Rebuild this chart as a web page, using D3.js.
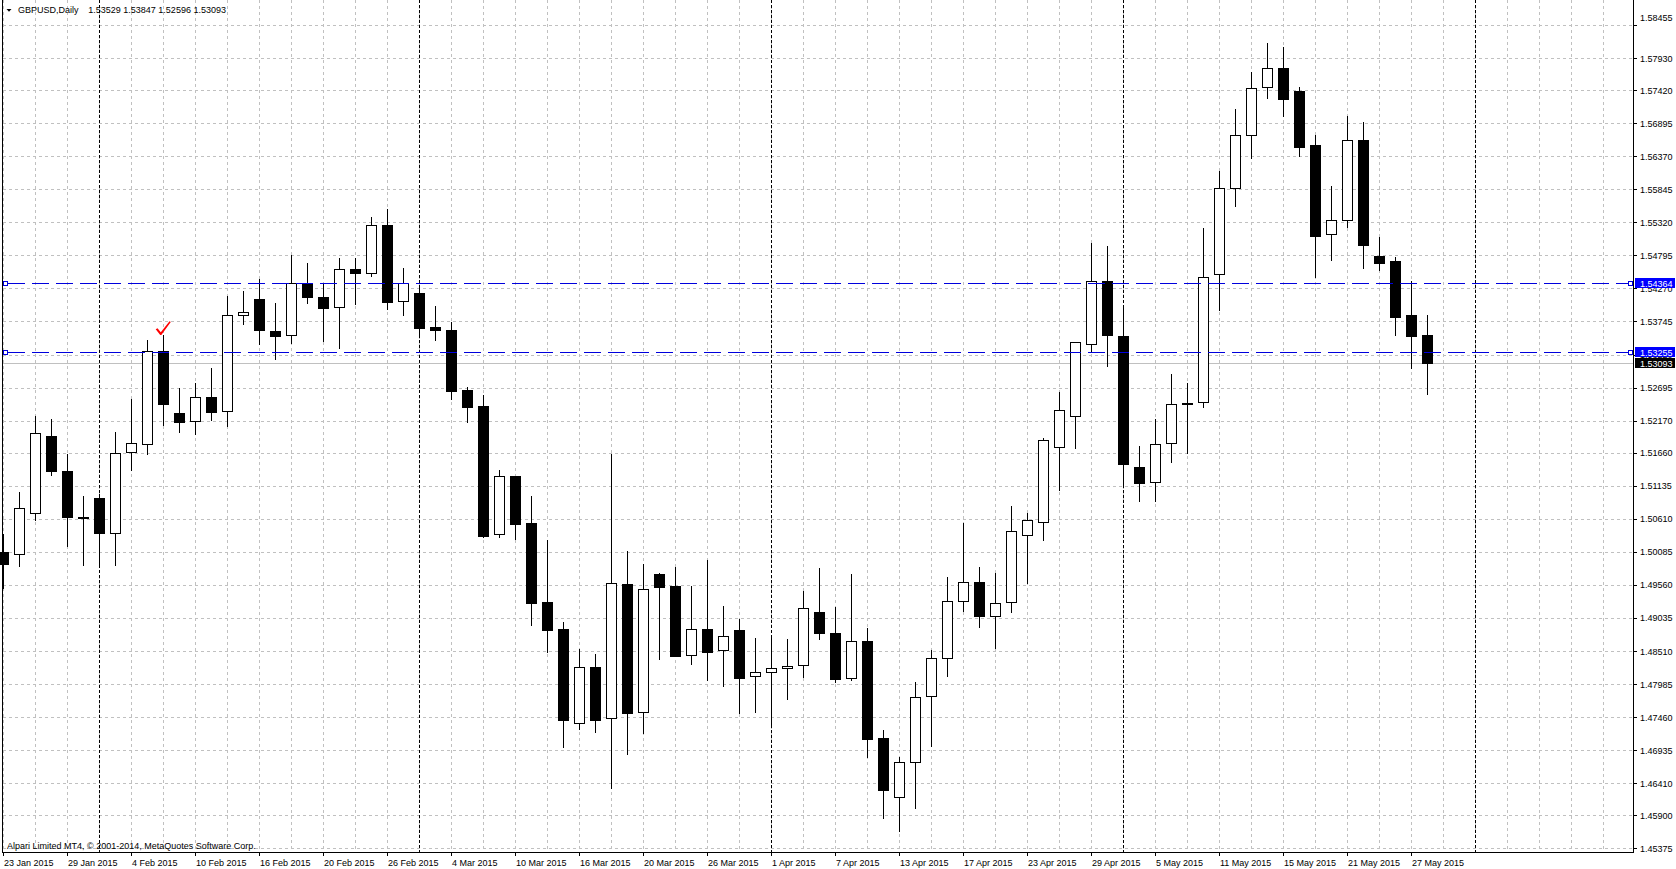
<!DOCTYPE html>
<html><head><meta charset="utf-8">
<script src="https://cdn.jsdelivr.net/npm/d3@7"></script>
<style>
html,body{margin:0;padding:0;background:#fff;overflow:hidden;}
svg{display:block;}
text{font-family:"Liberation Sans",Arial,sans-serif;font-size:9px;fill:#000;}
</style></head><body>
<svg id="c" width="1676" height="869"></svg>
<script>
const dates = ["2015.01.23","2015.01.26","2015.01.27","2015.01.28","2015.01.29","2015.01.30",
"2015.02.02","2015.02.03","2015.02.04","2015.02.05","2015.02.06","2015.02.09","2015.02.10","2015.02.11","2015.02.12","2015.02.13",
"2015.02.16","2015.02.17","2015.02.18","2015.02.19","2015.02.20","2015.02.23","2015.02.24","2015.02.25","2015.02.26","2015.02.27",
"2015.03.02","2015.03.03","2015.03.04","2015.03.05","2015.03.06","2015.03.09","2015.03.10","2015.03.11","2015.03.12","2015.03.13",
"2015.03.16","2015.03.17","2015.03.18","2015.03.19","2015.03.20","2015.03.23","2015.03.24","2015.03.25","2015.03.26","2015.03.27",
"2015.03.30","2015.03.31","2015.04.01","2015.04.02","2015.04.03","2015.04.06","2015.04.07","2015.04.08","2015.04.09","2015.04.10",
"2015.04.13","2015.04.14","2015.04.15","2015.04.16","2015.04.17","2015.04.20","2015.04.21","2015.04.22","2015.04.23","2015.04.24",
"2015.04.27","2015.04.28","2015.04.29","2015.04.30","2015.05.01","2015.05.04","2015.05.05","2015.05.06","2015.05.07","2015.05.08",
"2015.05.11","2015.05.12","2015.05.13","2015.05.14","2015.05.15","2015.05.18","2015.05.19","2015.05.20","2015.05.21","2015.05.22",
"2015.05.25","2015.05.26","2015.05.27","2015.05.28"];

const openP = [1.50076,1.50045,1.50696,1.51925,1.51369,1.50635,1.50939,1.50378,1.51665,1.51792,
1.53270,1.52285,1.52158,1.52539,1.52317,1.53842,1.54101,1.53588,1.53524,1.54349,
1.54129,1.53968,1.54574,1.54522,1.55284,1.54066,1.54204,1.53650,1.53610,1.52657,
1.52403,1.50376,1.51288,1.50543,1.49290,1.48857,1.47361,1.48255,1.47440,1.49569,
1.47535,1.49733,1.49542,1.48441,1.48854,1.48520,1.48838,1.48107,1.48171,1.48234,
1.48282,1.49124,1.48790,1.48075,1.48663,1.47122,1.46185,1.46740,1.47802,1.48405,
1.49310,1.49599,1.49058,1.49285,1.50359,1.50554,1.51748,1.52251,1.53394,1.54381,
1.53514,1.51440,1.51189,1.51811,1.52446,1.52460,1.54493,1.55859,1.56701,1.57464,
1.57766,1.57406,1.56548,1.55129,1.55351,1.56627,1.54779,1.54705,1.53842,1.53529];

const highP = [1.50362,1.51035,1.52242,1.52195,1.51639,1.50971,1.51003,1.51988,1.52512,1.53450,
1.53529,1.52687,1.52767,1.53005,1.54149,1.54228,1.54419,1.54038,1.54800,1.54666,
1.54349,1.54753,1.54753,1.55406,1.55533,1.54591,1.54303,1.53985,1.53742,1.52697,
1.52576,1.51386,1.51295,1.50970,1.50277,1.48972,1.48539,1.48462,1.51639,1.50098,
1.49892,1.49749,1.49844,1.49542,1.49955,1.49224,1.49018,1.48716,1.48716,1.48700,
1.49463,1.49828,1.49209,1.49733,1.48875,1.47254,1.46826,1.48015,1.48524,1.49693,
1.50542,1.49838,1.49750,1.50812,1.50705,1.51886,1.52622,1.53426,1.54991,1.54947,
1.54004,1.51767,1.52188,1.52911,1.52772,1.55224,1.56135,1.57120,1.57708,1.58168,
1.58110,1.57464,1.56707,1.55896,1.57009,1.56913,1.55086,1.54763,1.54387,1.53847];

const lowP = [1.49510,1.49864,1.50590,1.51305,1.50177,1.49880,1.49896,1.49880,1.51384,1.51644,
1.52105,1.51988,1.51956,1.52184,1.52089,1.53709,1.53386,1.53153,1.53407,1.54043,
1.53442,1.53321,1.54020,1.54464,1.53945,1.53846,1.53523,1.53454,1.52512,1.52154,
1.50325,1.50318,1.50289,1.48920,1.48499,1.46991,1.47270,1.47228,1.46338,1.46878,
1.47207,1.48388,1.48425,1.48308,1.48049,1.47959,1.47530,1.47546,1.47339,1.47752,
1.48102,1.48706,1.48022,1.48054,1.46831,1.45862,1.45650,1.46017,1.46997,1.48116,
1.49147,1.48883,1.48562,1.49134,1.49593,1.50278,1.51069,1.51742,1.53281,1.53043,
1.51151,1.50900,1.50900,1.51516,1.51654,1.52380,1.53932,1.55584,1.56347,1.57300,
1.57009,1.56378,1.54456,1.54726,1.55250,1.54599,1.54567,1.53534,1.53010,1.52596];

const closeP = [1.49886,1.50775,1.51967,1.51374,1.50643,1.50630,1.50378,1.51649,1.51808,1.53270,
1.52438,1.52142,1.52539,1.52311,1.53842,1.53889,1.53614,1.53519,1.54350,1.54141,
1.53962,1.54574,1.54522,1.55284,1.54060,1.54349,1.53644,1.53604,1.52645,1.52391,
1.50341,1.51282,1.50532,1.49278,1.48851,1.47419,1.48250,1.47419,1.49585,1.47530,
1.49489,1.49532,1.48435,1.48854,1.48499,1.48743,1.48086,1.48171,1.48234,1.48266,
1.49187,1.48790,1.48070,1.48663,1.47117,1.46306,1.46741,1.47783,1.48405,1.49310,
1.49599,1.49071,1.49266,1.50410,1.50598,1.51867,1.52345,1.53413,1.54381,1.53533,
1.51484,1.51183,1.51805,1.52427,1.52440,1.54445,1.55859,1.56701,1.57448,1.57766,
1.57284,1.56521,1.55107,1.55351,1.56622,1.54964,1.54678,1.53820,1.53520,1.53093];

const priceTicks = [1.58455,1.57930,1.57420,1.56895,1.56370,1.55845,1.55320,1.54795,1.54270,1.53745,
1.53220,1.52695,1.52170,1.51660,1.51135,1.50610,1.50085,1.49560,1.49035,1.48510,
1.47985,1.47460,1.46935,1.46410,1.45900,1.45375];

const dateTickLabels = ["23 Jan 2015","29 Jan 2015","4 Feb 2015","10 Feb 2015","16 Feb 2015","20 Feb 2015",
"26 Feb 2015","4 Mar 2015","10 Mar 2015","16 Mar 2015","20 Mar 2015","26 Mar 2015","1 Apr 2015",
"7 Apr 2015","13 Apr 2015","17 Apr 2015","23 Apr 2015","29 Apr 2015","5 May 2015","11 May 2015",
"15 May 2015","21 May 2015","27 May 2015"];

// first bar of each month (bar index; 92 = 1 Jun 2015, in the empty right shift area)
const monthSeparators = [6, 26, 48, 70, 92];
const horizontalLevels = [1.54364, 1.53255];
const bidPrice = 1.53093;
const markerBar = 10;
const symbolTitle = "GBPUSD,Daily";
const copyrightText = "Alpari Limited MT4, \u00A9 2001-2014, MetaQuotes Software Corp.";

// ---------------------------------------------------------------
const svg = d3.select("#c");
const plotR = 1633, plotB = 852;
const x = d3.scaleLinear().domain([0, 1]).range([3, 19]);
const y = d3.scaleLinear().domain([1.45375, 1.58455]).range([848.3, 25]);
const sp = v => Math.round(v) + 0.5;
const fmt = d3.format(".5f");
const parseLbl = d3.timeParse("%d %b %Y"), fmtKey = d3.timeFormat("%Y.%m.%d");
const dateTickIdx = dateTickLabels.map(l => dates.indexOf(fmtKey(parseLbl(l))));
const maxBars = Math.floor(x.invert(plotR));

svg.append("rect").attr("width",1676).attr("height",869).attr("fill","#fff");

// grid
const grid = svg.append("g").attr("shape-rendering","crispEdges");
grid.selectAll("line.v").data(d3.range(0, maxBars + 1, 2)).join("line").attr("class","v")
  .attr("x1", d => sp(x(d))).attr("x2", d => sp(x(d))).attr("y1", 0).attr("y2", plotB)
  .attr("stroke", "#c0c0c0").attr("stroke-dasharray", "3,3");
grid.selectAll("line.h").data(priceTicks).join("line").attr("class","h")
  .attr("x1", 3).attr("x2", plotR).attr("y1", d => sp(y(d))).attr("y2", d => sp(y(d)))
  .attr("stroke", "#c0c0c0").attr("stroke-dasharray", "3,3");
// period separators
grid.selectAll("line.sep").data(monthSeparators).join("line").attr("class","sep")
  .attr("x1", d => sp(x(d))).attr("x2", d => sp(x(d))).attr("y1", 0).attr("y2", plotB)
  .attr("stroke", "#000").attr("stroke-dasharray", "3,2");

// bid line
grid.append("line").attr("x1", 3).attr("x2", plotR)
  .attr("y1", sp(y(bidPrice))).attr("y2", sp(y(bidPrice))).attr("stroke", "#c0c0c0");

// candles
const bars = dates.map((d, i) => ({i, d, o: openP[i], h: highP[i], l: lowP[i], c: closeP[i]}));
const cg = svg.append("g").attr("shape-rendering","crispEdges");
cg.selectAll("line.wick").data(bars).join("line").attr("class","wick")
  .attr("x1", b => x(b.i) + 0.5).attr("x2", b => x(b.i) + 0.5)
  .attr("y1", b => Math.round(y(b.h))).attr("y2", b => Math.round(y(b.l)) + 1)
  .attr("stroke", "#000");
cg.selectAll("path.body").data(bars).join("path").attr("class","body")
  .attr("d", b => {
    const t = sp(y(Math.max(b.o, b.c))), bt = sp(y(Math.min(b.o, b.c)));
    const x0 = x(b.i) - 4.5, x1 = x(b.i) + 5.5;
    return `M${x0},${t}H${x1}V${bt}H${x0}Z`;
  })
  .attr("fill", b => b.c >= b.o ? "#fff" : "#000").attr("stroke", "#000");

// horizontal line objects
const hl = svg.append("g").attr("shape-rendering","crispEdges");
hl.selectAll("line").data(horizontalLevels).join("line")
  .attr("x1", 8).attr("x2", 1628).attr("y1", d => sp(y(d))).attr("y2", d => sp(y(d)))
  .attr("stroke", "#0000dd").attr("stroke-dasharray", "17,7");
horizontalLevels.forEach(v => {
  [3.5, 1628.5].forEach(px => {
    hl.append("rect").attr("x", px).attr("y", sp(y(v)) - 2).attr("width", 4).attr("height", 4)
      .attr("fill", "#fff").attr("stroke", "#0000dd");
  });
});

// check-mark arrow above bar
const mx = x(markerBar) + 0.5, my = y(highP[markerBar]) - 12;
svg.append("path")
  .attr("d", `M${mx-7.8},${my+6.2} L${mx-6},${my+5.2} L${mx-2.7},${my+9.2} L${mx+6},${my-1.8} L${mx+7.3},${my-1.1} L${mx-2.2},${my+12} L${mx-3.3},${my+12} Z`)
  .attr("fill", "#ff0000");

// frame
const fr = svg.append("g").attr("shape-rendering","crispEdges");
fr.append("line").attr("x1", 2.5).attr("x2", 2.5).attr("y1", 0).attr("y2", plotB).attr("stroke", "#000");
fr.append("line").attr("x1", plotR + 0.5).attr("x2", plotR + 0.5).attr("y1", 0).attr("y2", plotB + 1).attr("stroke", "#000");
fr.append("line").attr("x1", 2).attr("x2", plotR + 1).attr("y1", plotB + 0.5).attr("y2", plotB + 0.5).attr("stroke", "#000");

// price axis
const ya = svg.append("g").attr("transform", `translate(${plotR},0)`)
  .call(d3.axisRight(y).tickValues(priceTicks).tickSize(4).tickPadding(3).tickFormat(fmt));
ya.select(".domain").remove();
ya.attr("font-family", null).attr("font-size", null);
ya.selectAll(".tick line").attr("stroke", "#000").attr("shape-rendering","crispEdges");
ya.selectAll(".tick text").attr("fill", "#000").attr("dy", (d, i) => i === 0 ? "-0.45em" : "0.34em");

// time axis
const xa = svg.append("g").attr("transform", `translate(0,${plotB})`)
  .call(d3.axisBottom(x).tickValues(dateTickIdx).tickSize(4).tickFormat((d, i) => dateTickLabels[i]));
xa.select(".domain").remove();
xa.attr("font-family", null).attr("font-size", null);
xa.selectAll(".tick line").attr("stroke", "#000").attr("shape-rendering","crispEdges");
xa.selectAll(".tick text").attr("fill", "#000").attr("text-anchor", "start").attr("x", 0.5).attr("y", 8).attr("dy", "0.71em");

// price labels on the axis
const labels = horizontalLevels.map(v => ({v, fill: "#0000ff"})).concat([{v: bidPrice, fill: "#000"}]);
const lg = svg.append("g");
labels.forEach(lb => {
  const ly = sp(y(lb.v));
  lg.append("rect").attr("x", 1635).attr("y", ly - 5.5).attr("width", 40).attr("height", 10)
    .attr("fill", lb.fill).attr("shape-rendering","crispEdges");
  lg.append("text").attr("x", 1640).attr("y", ly).attr("dy", "0.34em").style("fill", "#fff").text(fmt(lb.v));
});

// header
svg.append("path").attr("d", "M6.5,9L11.5,9L9,11.8Z").attr("fill", "#000");
svg.append("text").attr("x", 18).attr("y", 13).text(symbolTitle);
svg.append("text").attr("x", 88.3).attr("y", 13)
  .text([openP, highP, lowP, closeP].map(a => fmt(a[a.length - 1])).join(" "));

// copyright
svg.append("text").attr("x", 7).attr("y", 848.5).text(copyrightText);
</script>
</body></html>
